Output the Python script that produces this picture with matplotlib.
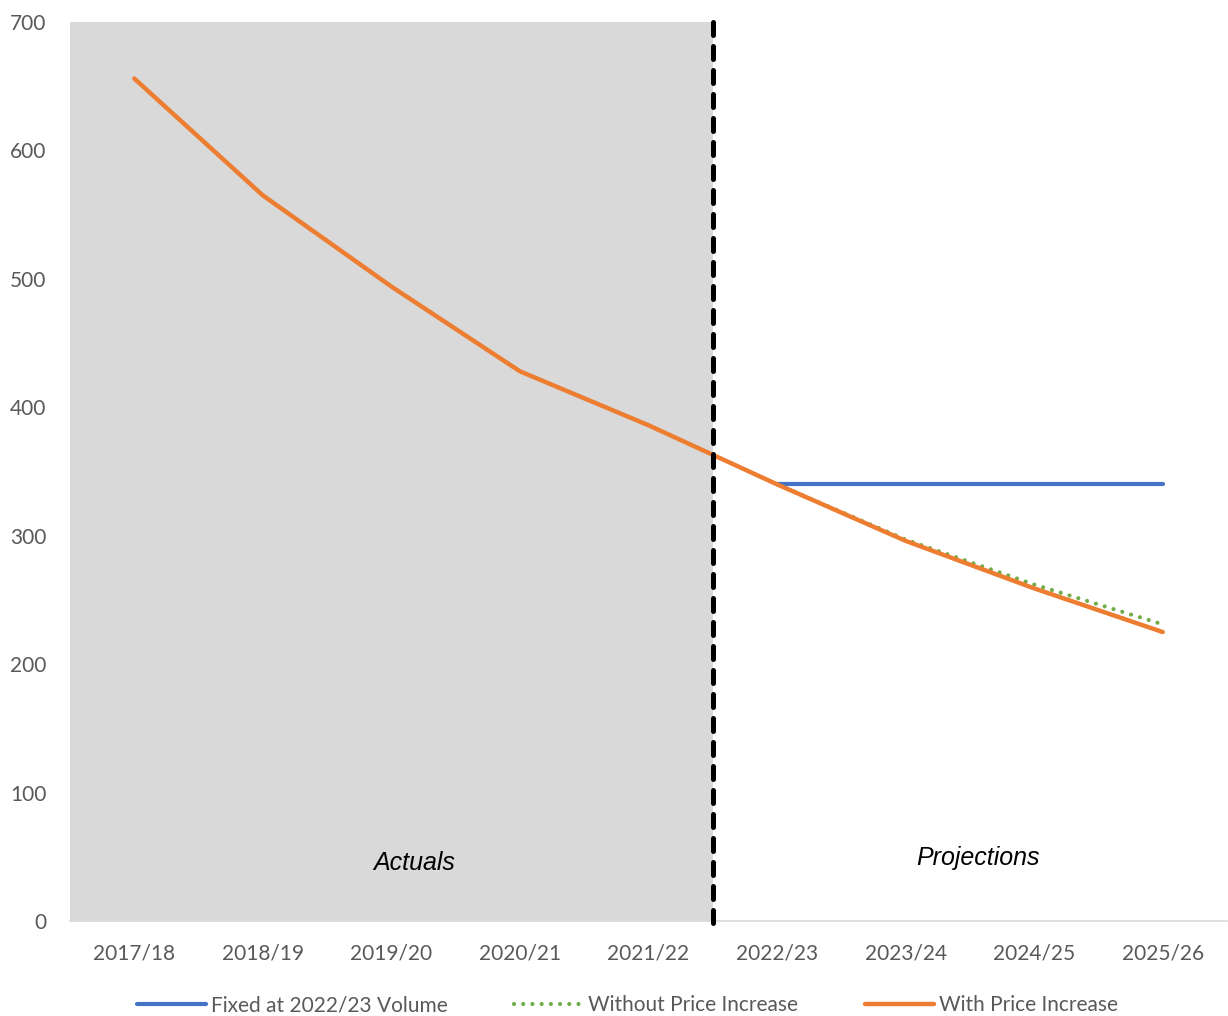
import matplotlib.pyplot as plt
import numpy as np

years = ["2017/18", "2018/19", "2019/20", "2020/21", "2021/22",
         "2022/23", "2023/24", "2024/25", "2025/26"]
with_increase = [656, 565, 494, 428, 386, 340, 296, 259, 225]
without_increase = [656, 565, 494, 428, 386, 340, 297, 262, 231]
fixed_volume = [None, None, None, None, None, 340, 340, 340, 340]

x = np.arange(len(years))
fixed = np.array([np.nan if v is None else v for v in fixed_volume], dtype=float)

plt.rcParams['font.family'] = ['Lato', 'DejaVu Sans']

fig = plt.figure(figsize=(12.28, 10.16), dpi=100)
ax = fig.add_axes([70 / 1228, 1 - 921 / 1016, 1157 / 1228, 899 / 1016])

# shaded history block and the split between actuals and projections
ax.axvspan(-0.5, 4.5, color='#d9d9d9', zorder=0, lw=0)
ax.axvline(4.5, color='black', lw=3.6, linestyle=(0, (2.6, 2.2)),
           dash_capstyle='round', zorder=5, ymin=-0.002, ymax=1.0, clip_on=False)

ax.plot(x, fixed, color='#4472C4', lw=3, solid_capstyle='round',
        label='Fixed at 2022/23 Volume', zorder=2)
ax.plot(x[5:], without_increase[5:], color='#70AD47', lw=3,
        linestyle=(0, (0.01, 2.2)), dash_capstyle='round',
        label='Without Price Increase', zorder=3)
ax.plot(x, with_increase, color='#ED7D31', lw=3.2, solid_capstyle='round',
        label='With Price Increase', zorder=4)

ax.text(2.18, 45, "Actuals", fontsize=18, style='italic', family='Liberation Sans',
        ha='center', va='center')
ax.text(6.56, 49, "Projections", fontsize=18, style='italic', family='Liberation Sans',
        ha='center', va='center')

ax.set_xlim(-0.5, 8.5)
ax.set_ylim(0, 700)
ax.set_yticks(range(0, 701, 100))
ax.set_xticks(x)
ax.set_xticklabels(years)

for side in ['top', 'right', 'left']:
    ax.spines[side].set_visible(False)
ax.spines['bottom'].set_color('#d9d9d9')
ax.spines['bottom'].set_linewidth(1.2)
ax.tick_params(axis='both', length=0, labelsize=15, labelcolor='#595959')
ax.tick_params(axis='x', pad=16)
ax.tick_params(axis='y', pad=17)

fig.legend(loc='center', bbox_to_anchor=(0.511, 1 - 1005 / 1016), ncol=3, frameon=False,
           fontsize=15, labelcolor='#595959', handlelength=3.3, handletextpad=0.25,
           columnspacing=3.2)

fig.savefig("out.png", dpi=100)
